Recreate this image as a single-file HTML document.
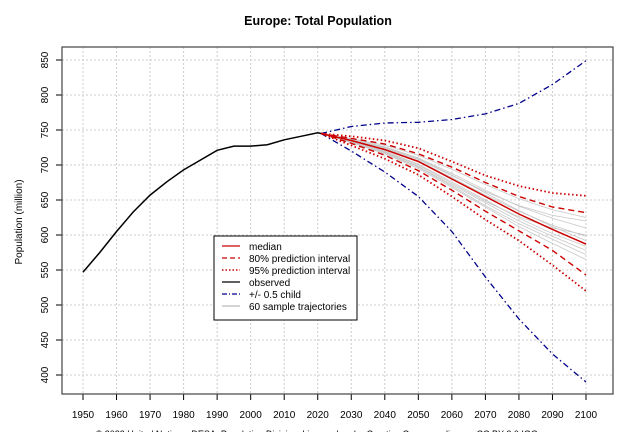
<!DOCTYPE html>
<html><head><meta charset="utf-8"><style>
body{margin:0;background:#fff;font-family:"Liberation Sans",sans-serif}
svg text{font-family:"Liberation Sans",sans-serif}
</style></head><body>
<svg id="c" width="634" height="432" xmlns="http://www.w3.org/2000/svg">
<text x="318" y="25" text-anchor="middle" font-size="12.5" font-weight="bold">Europe: Total Population</text>
<text transform="translate(22,222) rotate(-90)" text-anchor="middle" font-size="10">Population (million)</text>
<text x="318" y="437" text-anchor="middle" font-size="9">© 2022 United Nations, DESA, Population Division. Licensed under Creative Commons license CC BY 3.0 IGO.</text>
<g id="grid"></g><g id="series"></g><g id="axes"></g>
<rect x="62" y="47" width="551" height="347" fill="none" stroke="#444" stroke-width="1.2"/>
<g>
<rect x="214" y="236" width="143" height="84" fill="#fff" stroke="#000"/>
<g font-size="10">
<line x1="222" y1="246" x2="240" y2="246" stroke="#c00" stroke-width="1.2"/><text x="249" y="250">median</text>
<line x1="222" y1="258" x2="240" y2="258" stroke="#c00" stroke-width="1.2" stroke-dasharray="5,3"/><text x="249" y="262">80% prediction interval</text>
<line x1="222" y1="270" x2="240" y2="270" stroke="#c00" stroke-width="1.5" stroke-dasharray="1.5,2"/><text x="249" y="274">95% prediction interval</text>
<line x1="222" y1="282" x2="240" y2="282" stroke="#000" stroke-width="1.2"/><text x="249" y="286">observed</text>
<line x1="222" y1="294" x2="240" y2="294" stroke="#00008b" stroke-width="1.2" stroke-dasharray="5,2,1,2"/><text x="249" y="298">+/- 0.5 child</text>
<line x1="222" y1="306" x2="240" y2="306" stroke="#bbb" stroke-width="1.2"/><text x="249" y="310">60 sample trajectories</text>
</g></g>
</svg>
<script>
const xTicks=[1950,1960,1970,1980,1990,2000,2010,2020,2030,2040,2050,2060,2070,2080,2090,2100];
const yTicks=[400,450,500,550,600,650,700,750,800,850];
const obsYears=[1950,1955,1960,1965,1970,1975,1980,1985,1990,1995,2000,2005,2010,2015,2020,2021];
const observed=[547,575,605,633,657,676,693,707,721,727,727,729,736,741,746,745];
const projYears=[2021,2030,2040,2050,2060,2070,2080,2090,2100];
const median=[745,735,722,705,680,655,630,608,587];
const pi80Upper=[745,738,730,716,697,675,655,640,632];
const pi80Lower=[745,731,714,692,664,634,606,578,543];
const pi95Upper=[745,741,735,724,705,685,670,660,656];
const pi95Lower=[745,728,709,686,655,622,592,557,520];
const halfChildUp=[745,755,760,761,765,773,788,815,849];
const halfChildDown=[745,720,690,655,605,540,480,430,390];
const traj1=[745,737,726,710,688,664,641,624,610];
const traj2=[745,733,718,698,672,646,620,598,578];
const traj3=[745,736,724,708,685,662,642,628,620];
const traj4=[745,734,720,701,676,650,624,602,584];
const traj5=[745,738,728,714,694,672,652,636,625];
const traj6=[745,732,716,695,668,640,612,588,565];
const traj7=[745,735,723,706,682,657,634,614,598];
const traj8=[745,734,719,700,674,648,626,610,600];
const traj9=[745,736,725,709,686,660,635,612,592];
const traj10=[745,733,717,697,670,642,616,594,572];
const trajectories=[traj1,traj2,traj3,traj4,traj5,traj6,traj7,traj8,traj9,traj10];
const NS='http://www.w3.org/2000/svg';
const X=v=>83+(v-1950)*(586-83)/150;
const Y=v=>375-(v-400)*(375-60)/450;
function mk(tag,attrs,parent){const e=document.createElementNS(NS,tag);for(const k in attrs)e.setAttribute(k,attrs[k]);document.getElementById(parent).appendChild(e);return e;}
xTicks.forEach(t=>{
 const g=mk('line',{x1:X(t),x2:X(t),y1:47,y2:394,stroke:'#ccc','stroke-dasharray':'2,2'},'grid');
 
 
 const k=mk('line',{x1:X(t),x2:X(t),y1:394,y2:400,stroke:'#000'},'axes');
 
 
 const l=mk('text',{x:X(t),y:418,'text-anchor':'middle','font-size':'10'},'axes');l.textContent=t;
 
 
});
yTicks.forEach(t=>{
 const g=mk('line',{x1:62,x2:613,y1:Y(t),y2:Y(t),stroke:'#ccc','stroke-dasharray':'2,2'},'grid');
 
 
 const k=mk('line',{x1:56,x2:62,y1:Y(t),y2:Y(t),stroke:'#000'},'axes');
 
 
 const l=mk('text',{transform:`translate(48,${Y(t)}) rotate(-90)`,'text-anchor':'middle','font-size':'10'},'axes');l.textContent=t;
 
 
});
function line(years,vals,stroke,w,dash,name){
 const p=mk('polyline',{points:years.map((y,i)=>X(y)+','+Y(vals[i])).join(' '),fill:'none',stroke:stroke,'stroke-width':w,'stroke-dasharray':dash||'none'},'series');
 
 
}
trajectories.forEach(t=>line(projYears,t,'#c8c8c8',0.8,null,'sample-trajectory'));
line(obsYears,observed,'#000',1.5,null,'observed-line');
line(projYears,halfChildUp,'#00008b',1.3,'6,3,1.5,3','half-child-upper');
line(projYears,halfChildDown,'#00008b',1.3,'6,3,1.5,3','half-child-lower');
line(projYears,pi95Upper,'#c00',1.8,'1.5,2.5','pi95-upper');
line(projYears,pi95Lower,'#c00',1.8,'1.5,2.5','pi95-lower');
line(projYears,pi80Upper,'#c00',1.4,'6,4','pi80-upper');
line(projYears,pi80Lower,'#c00',1.4,'6,4','pi80-lower');
line(projYears,median,'#c00',1.5,null,'median-line');
</script>
</body></html>
